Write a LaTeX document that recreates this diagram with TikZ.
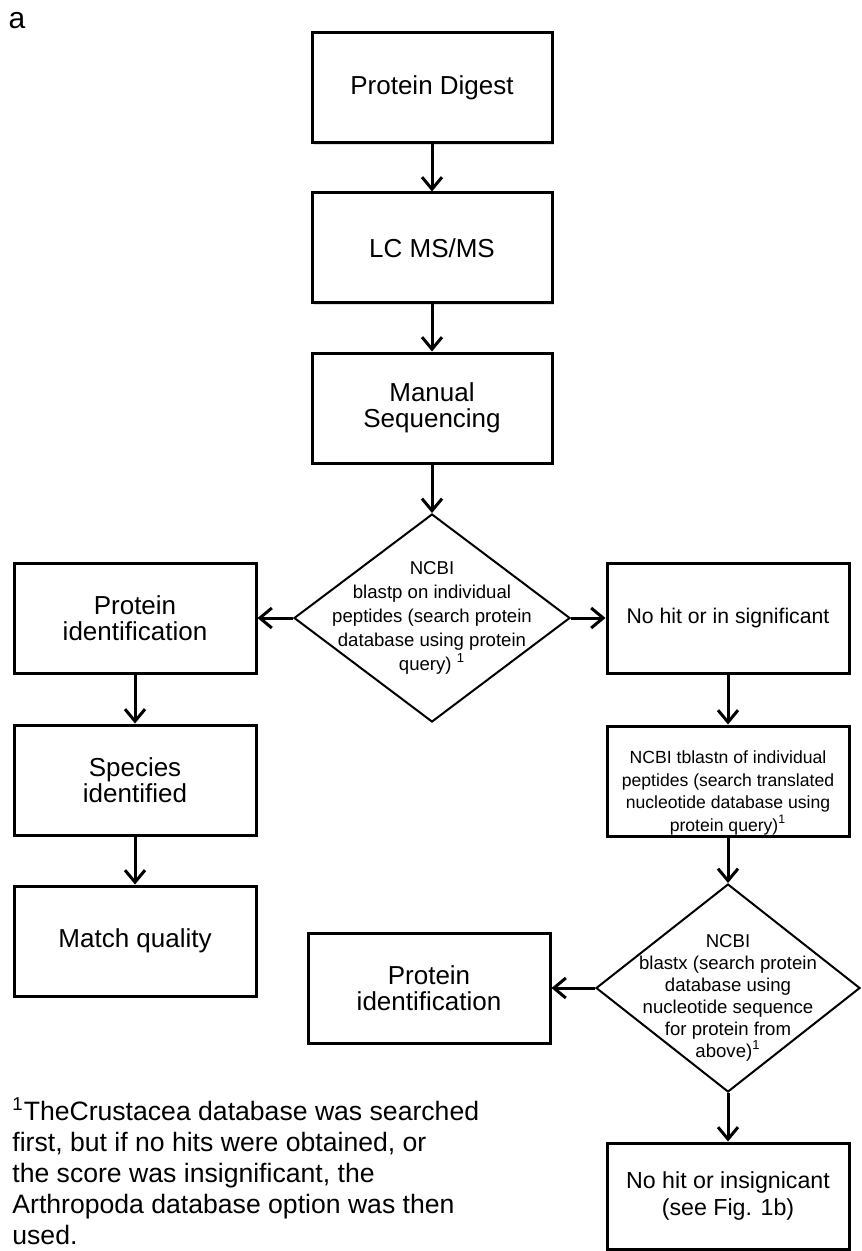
\documentclass[tikz,border=0pt]{standalone}
\usepackage{fontspec}
\setmainfont{Liberation Sans}
\usetikzlibrary{shapes.geometric,arrows.meta,shadows}

\begin{document}
\begin{tikzpicture}[x=0.5pt, y=-0.5pt,
    box/.style={draw=black, line width=1.5pt, fill=white, minimum width=121pt, minimum height=55pt,
      inner sep=0pt, align=center, font=\fontsize{13}{13}\selectfont,
      drop shadow={opacity=0.25, shadow xshift=1pt, shadow yshift=-1pt}},
    dia/.style={draw=black, line width=1pt, fill=white, shape=diamond, minimum height=104pt, inner sep=0pt},
    smalltext/.style={align=center, inner sep=0pt},
    flow/.style={-{Straight Barb[length=6pt, width=10pt]}, line width=1.5pt}]
  \useasboundingbox (0,0) rectangle (861,1251);
  \node[font=\fontsize{15}{15}\selectfont] (lbl) at (17,21) {a};

  % middle column
  \node[box, minimum width=120pt] (digest) at (432,88) {Protein Digest};
  \node[box, minimum width=120pt] (lcms) at (432,248) {LC MS/MS};
  \node[box, minimum width=120pt] (manual) at (432,408) {Manual\\Sequencing};
  \node[dia, minimum width=138pt] (blastp) at (432,618) {};
  \node[smalltext, font=\fontsize{9.3}{12}\selectfont] (blastptxt) at (blastp.center)
    {NCBI\\blastp on individual\\peptides (search protein\\database using protein\\query) \textsuperscript{1}};

  % left column
  \node[box] (protL) at (135,618) {Protein\\identification};
  \node[box] (species) at (135,780) {Species\\identified};
  \node[box] (match) at (135,941) {Match quality};

  % right column
  \node[box, font=\fontsize{10.6}{12}\selectfont] (nohit) at (728,618) {No hit or in significant};
  \node[box] (tblastn) at (728,781) {};
  \node[smalltext, font=\fontsize{8.8}{11.3}\selectfont] (tblastntxt) at ([yshift=-6pt]tblastn.center)
    {NCBI tblastn of individual\\peptides (search translated\\nucleotide database using\\protein query)\textsuperscript{1}};
  \node[dia, minimum width=132pt] (blastx) at (728,988) {};
  \node[smalltext, font=\fontsize{9.3}{11}\selectfont] (blastxtxt) at ([yshift=-5pt]blastx.center)
    {NCBI\\blastx (search protein\\database using\\nucleotide sequence\\for protein from\\above)\textsuperscript{1}};
  \node[box] (protR) at (429,988) {Protein\\identification};
  \node[box, minimum height=53pt, font=\fontsize{11.6}{13.3}\selectfont] (insig) at (728,1196)
    {No hit or insignicant\\(see Fig. 1b)};

  % arrows
  \draw[flow] (digest) -- (lcms);
  \draw[flow] (lcms) -- (manual);
  \draw[flow] (manual) -- (blastp);
  \draw[flow] (blastp) -- (protL);
  \draw[flow] (blastp) -- (nohit);
  \draw[flow] (protL) -- (species);
  \draw[flow] (species) -- (match);
  \draw[flow] (nohit) -- (tblastn);
  \draw[flow] (tblastn) -- (blastx);
  \draw[flow] (blastx) -- (protR);
  \draw[flow] (blastx) -- (insig);

  % footnote
  \node[anchor=north west, align=left, inner sep=0pt, font=\fontsize{13.3}{15.5}\selectfont] (note) at (12,1097)
    {\textsuperscript{1}TheCrustacea database was searched\\first, but if no hits were obtained, or\\the score was insignificant, the\\Arthropoda database option was then\\used.};
\end{tikzpicture}
\end{document}
